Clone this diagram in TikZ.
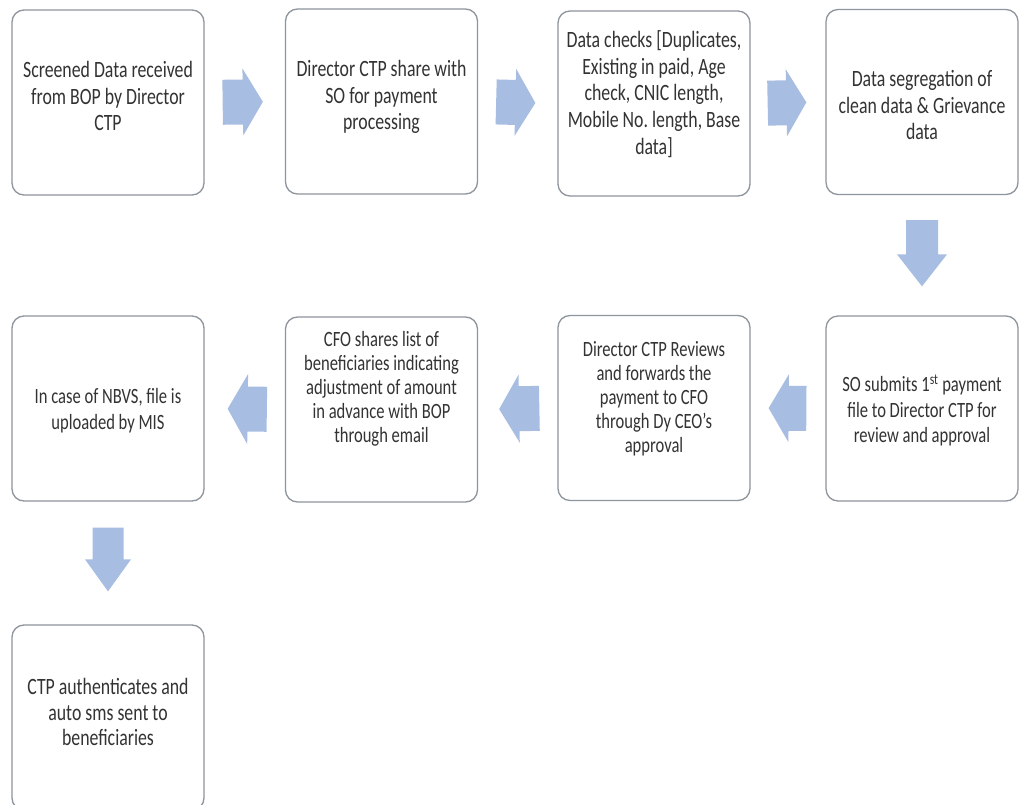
\documentclass[tikz,border=0pt]{standalone}
\usepackage{fontspec}
\setmainfont{Carlito}[FakeStretch=0.76]
\usetikzlibrary{calc}
\frenchspacing

\definecolor{boxline}{HTML}{8E959C}
\definecolor{flow}{HTML}{A8BDE2}
\definecolor{ink}{HTML}{333333}

\newcommand\rowafont{\fontsize{23.4}{26.6}\selectfont}
\newcommand\rowbfont{\fontsize{21.8}{24}\selectfont}
\newcommand\rowbwide{\fontsize{21.8}{25.5}\selectfont}
\newcommand\rowcfont{\fontsize{23.4}{25.5}\selectfont}

\tikzset{
  stepbox/.style={draw=boxline, line width=1.3pt, rounded corners=12pt, fill=white,
                  minimum width=192pt, minimum height=185pt, inner sep=0pt},
  txt/.style={text=ink, align=center, inner sep=0pt},
}

% block arrow from #1 to #2: gap at start #3, gap at end #4,
% shaft half width #5, head half width #6, head length #7
\newcommand\flowarrow[7]{%
  \path ($(#1)!#3!(#2)$) coordinate (fa-s)
        ($(#2)!#4!(#1)$) coordinate (fa-t);
  \path ($(fa-t)!#7!(fa-s)$) coordinate (fa-n);
  \fill[flow] ($(fa-s)!#5!90:(fa-t)$) -- ($(fa-n)!#5!-90:(fa-s)$)
    -- ($(fa-n)!#6!-90:(fa-s)$) -- (fa-t) -- ($(fa-n)!#6!90:(fa-s)$)
    -- ($(fa-n)!#5!90:(fa-s)$) -- ($(fa-s)!#5!-90:(fa-t)$) -- cycle;
}

\begin{document}
\begin{tikzpicture}[x=1pt,y=-1pt]
  \clip (0,0) rectangle (1019,805);
  \useasboundingbox (0,0) rectangle (1019,805);
  \fill[white] (0,0) rectangle (1019,805);

  % boxes, row by row
  \node[stepbox] (b1) at (108,102.5) {};
  \node[stepbox] (b2) at (381.5,101.5) {};
  \node[stepbox] (b3) at (654,103.5) {};
  \node[stepbox] (b4) at (922,102) {};
  \node[stepbox] (b5) at (922,408.5) {};
  \node[stepbox] (b6) at (654,408) {};
  \node[stepbox] (b7) at (381.5,409.5) {};
  \node[stepbox] (b8) at (108,408.5) {};
  \node[stepbox] (b9) at (108,717.5) {};

  % box texts
  \node[txt, font=\rowafont] (t1) at ($(b1)+(0,-6.5)$)
    {Screened Data received\\from BOP by Director\\CTP};
  \node[txt, font=\rowafont] (t2) at ($(b2)+(0,-4.5)$)
    {Director CTP share with\\SO for payment\\processing};
  \node[txt, font=\rowafont] (t3) at ($(b3)+(0,-9.5)$)
    {Data checks [Duplicates,\\Existing in paid, Age\\check, CNIC length,\\Mobile No. length, Base\\data]};
  \node[txt, font=\rowafont] (t4) at ($(b4)+(0,3)$)
    {Data segregation of\\clean data \& Grievance\\data};
  \node[txt, font=\rowbwide] (t5) at ($(b5)+(0,2)$)
    {SO submits 1\textsuperscript{st} payment\\file to Director CTP for\\review and approval};
  \node[txt, font=\rowbfont] (t6) at ($(b6)+(0,-9.5)$)
    {Director CTP Reviews\\and forwards the\\payment to CFO\\through Dy CEO’s\\approval};
  \node[txt, font=\rowbfont] (t7) at ($(b7)+(0,-21)$)
    {CFO shares list of\\beneficiaries indicating\\adjustment of amount\\in advance with BOP\\through email};
  \node[txt, font=\rowbwide] (t8) at ($(b8)+(0,2)$)
    {In case of NBVS, file is\\uploaded by MIS};
  \node[txt, font=\rowcfont] (t9) at ($(b9)+(0,-5.5)$)
    {CTP authenticates and\\auto sms sent to\\beneficiaries};

  % flow arrows between the steps
  \flowarrow{b1.east}{b2.west}{18pt}{22pt}{22.5pt}{33.5pt}{20pt}
  \flowarrow{b2.east}{b3.west}{18pt}{22pt}{22.5pt}{33.5pt}{20pt}
  \flowarrow{b3.east}{b4.west}{17pt}{19pt}{22.5pt}{33.5pt}{20pt}
  \flowarrow{b4.south}{b5.north}{25pt}{29pt}{16pt}{25pt}{32pt}
  \flowarrow{b5.west}{b6.east}{19pt}{18pt}{22.5pt}{34pt}{20pt}
  \flowarrow{b6.west}{b7.east}{18pt}{21pt}{22.5pt}{34pt}{20pt}
  \flowarrow{b7.west}{b8.east}{18pt}{23pt}{22.5pt}{35pt}{20pt}
  \flowarrow{b8.south}{b9.north}{26pt}{33pt}{15.5pt}{23pt}{32pt}
\end{tikzpicture}
\end{document}
